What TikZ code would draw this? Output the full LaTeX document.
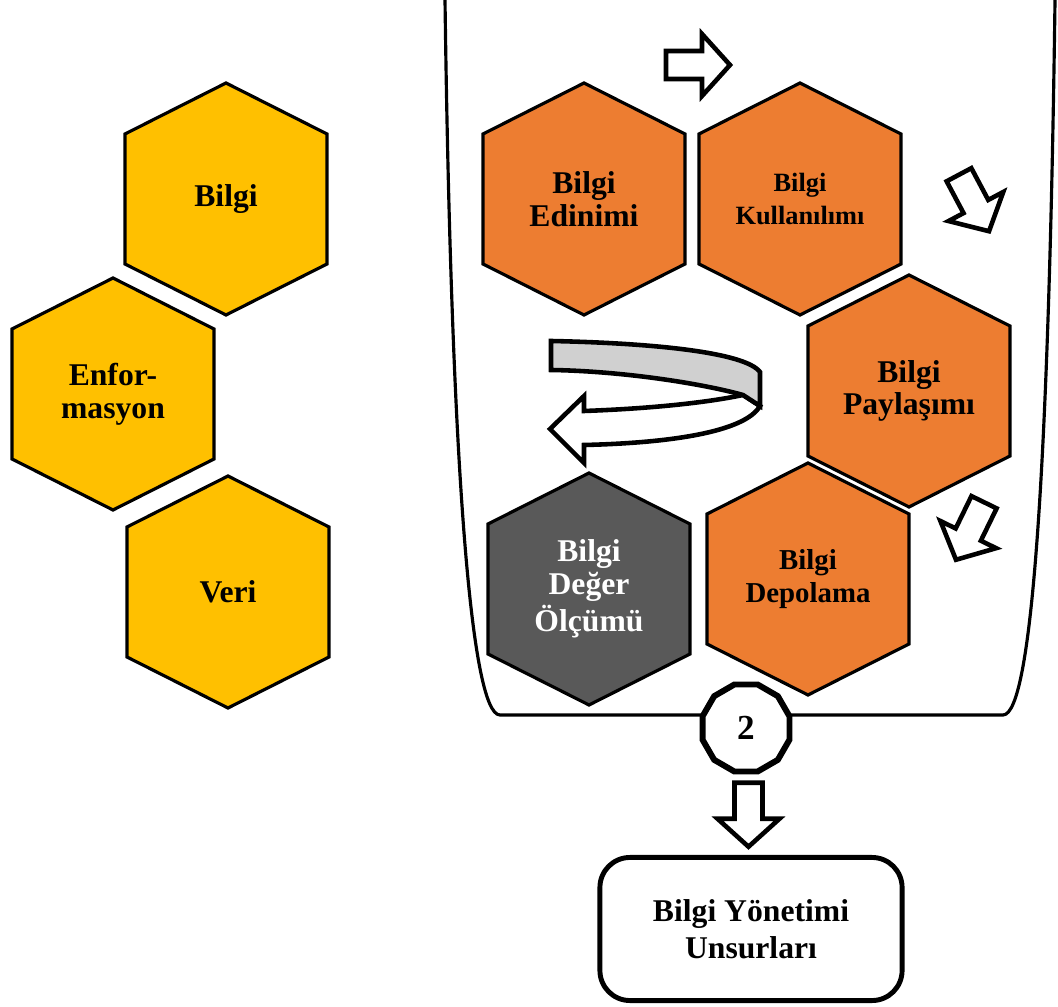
\documentclass[tikz,border=0pt]{standalone}
\usepackage{fontspec}
\setmainfont{Liberation Serif}
\usetikzlibrary{shapes,arrows,calc}
\definecolor{hexyellow}{HTML}{FFC000}
\definecolor{hexorange}{HTML}{ED7D31}
\definecolor{hexgray}{HTML}{595959}
\definecolor{ribbongray}{HTML}{D0D0D0}
\tikzset{
  hexline/.style={draw=black, line width=0.9pt, line join=miter},
  hexlabel/.style={align=center, inner sep=0pt},
  arrline/.style={draw=black, line width=1.3pt, line join=miter},
  pics/hexa/.style n args={4}{code={
    \draw [hexline, fill=#1] (0,-116) -- (101,-65) -- (101,65) -- (0,116) -- (-101,65) -- (-101,-65) -- cycle;
    \node [hexlabel, text=#2, font=\fontsize{#3}{9.3}\selectfont\bfseries] (-t) at (0,0) {#4};}},
  pics/blockarr/.style={code={
    \draw [arrline, fill=white] (-32,-14) -- (4,-14) -- (4,-31) -- (32,0) -- (4,31) -- (4,14) -- (-32,14) -- cycle;}}
}
\begin{document}
\begin{tikzpicture}[x=0.01cm, y=-0.01cm]
     \useasboundingbox (0,0) rectangle (1058,1007);
     \draw [line width=0.9pt] (445,0) .. controls (451,450) and (470,715) .. (500,715) -- (1003,715) .. controls (1033,715) and (1049,450) .. (1055,0);
     \pic (bilgi) at (226,199) {hexa={hexyellow}{black}{9}{Bilgi}};
     \pic (enfo) at (113,394) {hexa={hexyellow}{black}{9}{Enfor-\\masyon}};
     \pic (veri) at (228,592) {hexa={hexyellow}{black}{9}{Veri}};
     \pic (edin) at (584,199) {hexa={hexorange}{black}{9}{Bilgi\\Edinimi}};
     \pic (kull) at (800,199) {hexa={hexorange}{black}{7.5}{Bilgi\\Kullanılımı}};
     \pic (payl) at (909,391) {hexa={hexorange}{black}{9}{Bilgi\\Paylaşımı}};
     \pic (depo) at (808,579) {hexa={hexorange}{black}{8.2}{Bilgi\\Depolama}};
     \pic (olcu) at (589,589) {hexa={hexgray}{white}{9}{Bilgi\\Değer\\Ölçümü}};
     \pic at (698,65) {blockarr};
     \pic [rotate=-62] at (974,203) {blockarr};
     \pic [rotate=-116] at (970,531) {blockarr};
     \draw [arrline, fill=white] (743,395) .. controls (700,404) and (640,409) .. (584,411) -- (584,396) -- (550,429) -- (584,463) -- (584,445) .. controls (670,443) and (745,432) .. (760,406) -- cycle;
     \draw [arrline, fill=ribbongray] (551,341) .. controls (650,343) and (745,352) .. (760,372) -- (760,406) -- (743,395) .. controls (700,383) and (620,371) .. (551,370) -- cycle;
     \node [draw, line width=1.7pt, fill=white, regular polygon, regular polygon sides=12, minimum size=0.9cm, inner sep=0pt, font=\fontsize{10}{12}\selectfont\bfseries] (num) at (746,728) {2};
     \node [draw, line width=1.4pt, rounded corners=0.3cm, minimum width=3.02cm, minimum height=1.43cm, align=center, font=\fontsize{9}{10.5}\selectfont\bfseries] (unsur) at (751,929) {Bilgi Yönetimi\\Unsurları};
     \pic [rotate=-90] at ($(num.south)!0.5!(unsur.north)$) {blockarr};
 \end{tikzpicture}
\end{document}
